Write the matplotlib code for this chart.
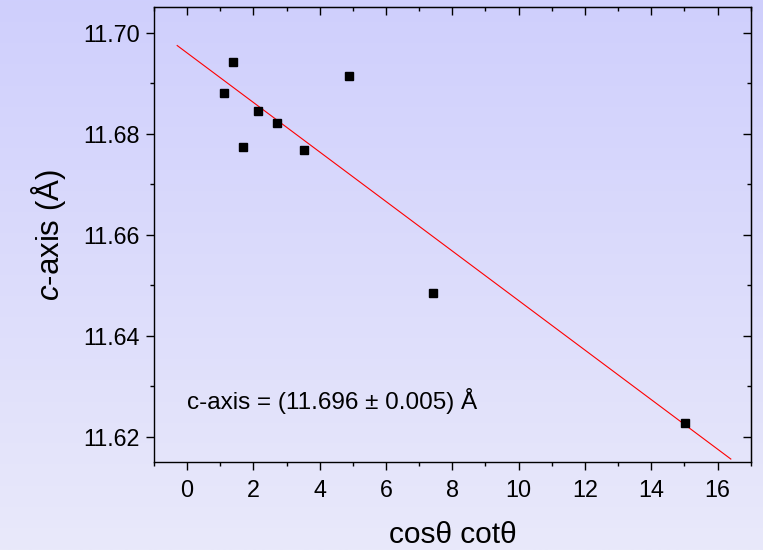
import numpy as np
import matplotlib.pyplot as plt
from matplotlib.ticker import MultipleLocator

plt.rcParams['font.family'] = ['Liberation Sans', 'DejaVu Sans']
plt.rcParams['mathtext.fontset'] = 'custom'
plt.rcParams['mathtext.it'] = 'Liberation Sans:italic'
plt.rcParams['mathtext.rm'] = 'Liberation Sans'

# data
x = [1.10, 1.37, 1.70, 2.13, 2.71, 3.53, 4.87, 7.43, 15.03]
c_axis = [11.6881, 11.6943, 11.6774, 11.6846, 11.6821, 11.6767, 11.6914, 11.6484, 11.6228]

# linear fit given on the chart
intercept = 11.696
slope = -0.0049
fit_x = [-0.3, 16.4]

xticks = [0, 2, 4, 6, 8, 10, 12, 14, 16]
yticks = [11.62, 11.64, 11.66, 11.68, 11.70]

fig = plt.figure(figsize=(7.63, 5.5), dpi=100)

# lavender gradient behind everything
bg = fig.add_axes([0, 0, 1, 1], zorder=-1)
top = np.array([207, 207, 253]) / 255
bot = np.array([233, 233, 250]) / 255
t = np.linspace(0, 1, 256)[:, None]
grad = top * (1 - t) + bot * t
bg.imshow(grad[:, None, :], aspect='auto', extent=[0, 1, 0, 1])
bg.axis('off')

ax = fig.add_axes([0.2018, 0.1595, 0.7821, 0.8269])
ax.set_facecolor('none')

ax.plot(fit_x, [intercept + slope * v for v in fit_x], color='red', lw=0.8)
ax.plot(x, c_axis, 's', color='black', ms=6, mec='black')

ax.set_xlim(-1, 17)
ax.set_ylim(11.615, 11.705)
ax.set_xticks(xticks)
ax.set_yticks(yticks)
ax.set_yticklabels(['%.2f' % v for v in yticks])
ax.xaxis.set_minor_locator(MultipleLocator(1))
ax.yaxis.set_minor_locator(MultipleLocator(0.01))

ax.tick_params(which='major', direction='out', length=6, width=1, labelsize=16.8, pad=6)
ax.tick_params(axis='y', which='major', pad=4)
ax.tick_params(which='minor', direction='out', length=3, width=1)
for s in ax.spines.values():
    s.set_linewidth(1)

# inward ticks on top and right
sx = ax.secondary_xaxis('top')
sx.set_xticks(xticks)
sx.xaxis.set_minor_locator(MultipleLocator(1))
sx.tick_params(which='major', direction='in', length=6, width=1, labeltop=False)
sx.tick_params(which='minor', direction='in', length=3, width=1)
sy = ax.secondary_yaxis('right')
sy.set_yticks(yticks)
sy.yaxis.set_minor_locator(MultipleLocator(0.01))
sy.tick_params(which='major', direction='in', length=6, width=1, labelright=False)
sy.tick_params(which='minor', direction='in', length=3, width=1)

ax.set_xlabel('cos\u03b8 cot\u03b8', fontsize=21.5, labelpad=14)
ax.set_ylabel('$\\mathit{c}$-axis (\u00c5)', fontsize=22.5, labelpad=11)

ax.text(0, 11.6256, 'c-axis = (11.696 \u00b1 0.005) \u00c5', fontsize=17.5, va='baseline')

fig.savefig('out.png', dpi=100)
